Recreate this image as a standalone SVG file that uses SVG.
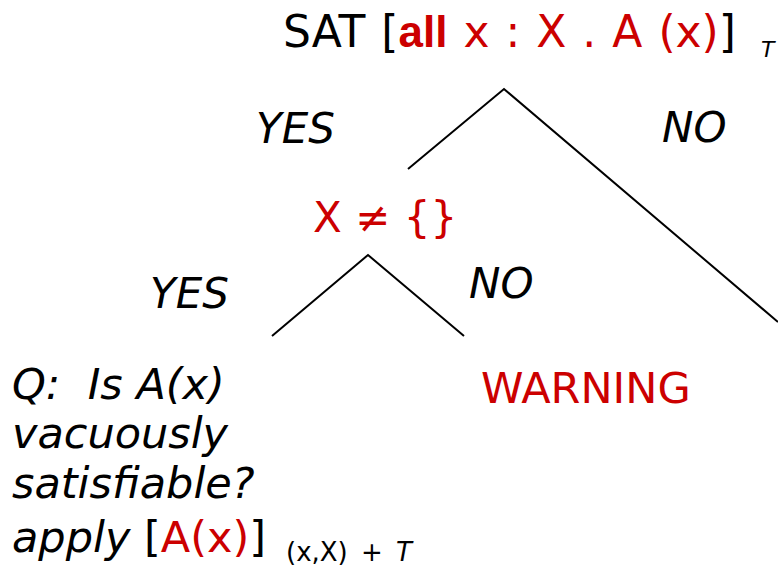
<svg xmlns="http://www.w3.org/2000/svg" width="778" height="569" viewBox="0 0 778 569">
<style>
text{font-family:"DejaVu Sans","Verdana",sans-serif;font-size:42px;fill:#000;white-space:pre}
.t{font-size:44px;word-spacing:2px}
.r{fill:#cc0000}
.i{font-style:italic}
.b{font-family:"Liberation Sans",Arial,sans-serif;font-weight:bold}
.s{font-size:22px}
.q{font-size:43px}
.sub{font-size:26px;word-spacing:5px}
.e{stroke:#000;stroke-width:2;fill:none}
</style>
<rect width="778" height="569" fill="#fff"/>
<g id="connectors">
<polyline class="e" points="408,169 504,89 778,322"/>
<polyline class="e" points="272,336 368,255 464,336"/>
</g>
<g id="root">
<text x="283" y="47" class="t" xml:space="preserve">SAT [<tspan class="r b">all</tspan><tspan class="r"> x : X . A (x)</tspan>]</text>
<text x="761" y="57" class="i s">T</text>
</g>
<g id="label-yes-1"><text x="256" y="143" class="i">YES</text></g>
<g id="label-no-1"><text x="662" y="142" class="i">NO</text></g>
<g id="nonempty"><text x="313" y="232" class="r" xml:space="preserve">X ≠ {}</text></g>
<g id="label-yes-2"><text x="150" y="308" class="i">YES</text></g>
<g id="label-no-2"><text x="469" y="298" class="i">NO</text></g>
<g id="warning"><text x="481" y="403" class="r" style="font-size:43px">WARNING</text></g>
<g id="question">
<text x="12" y="399" class="i q" xml:space="preserve">Q:  Is A(x)</text>
<text x="12" y="448" class="i q">vacuously</text>
<text x="12" y="498" class="i q">satisfiable?</text>
<text x="12" y="552" class="q" xml:space="preserve"><tspan class="i">apply</tspan> [<tspan class="r">A(x)</tspan>]</text>
<text x="286" y="561" class="sub" xml:space="preserve">(x,X) + <tspan class="i">T</tspan></text>
</g>
</svg>
